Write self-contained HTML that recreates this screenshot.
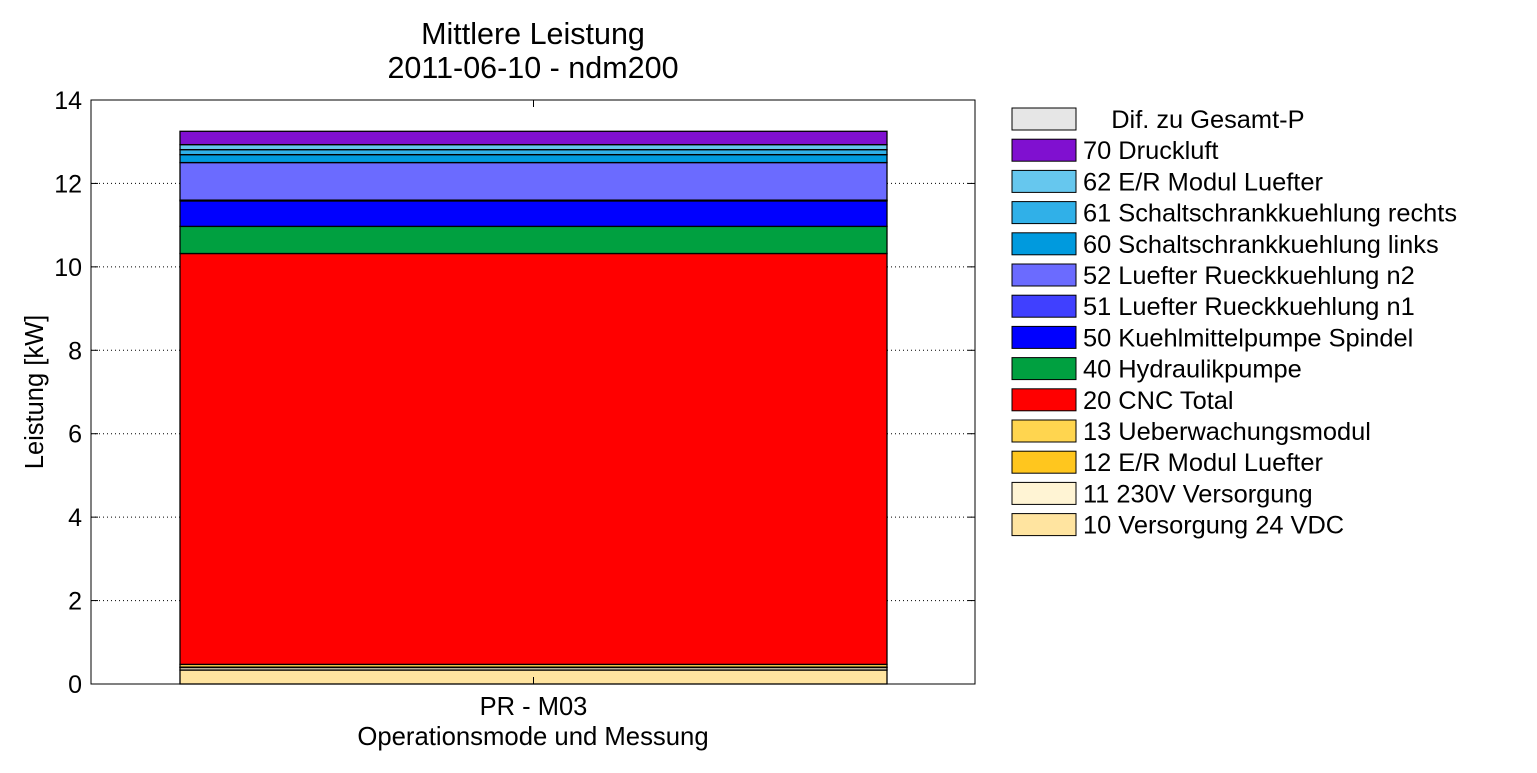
<!DOCTYPE html>
<html><head><meta charset="utf-8"><style>
body{margin:0;background:#fff;font-family:"Liberation Sans",sans-serif}
svg text{font-family:"Liberation Sans",sans-serif;fill:#000}
</style></head><body>
<svg id="c" width="1537" height="768" xmlns="http://www.w3.org/2000/svg"></svg>
<script>
const categories=["PR - M03"];
const seriesNames=["10 Versorgung 24 VDC","11 230V Versorgung","12 E/R Modul Luefter","13 Ueberwachungsmodul","20 CNC Total","40 Hydraulikpumpe","50 Kuehlmittelpumpe Spindel","51 Luefter Rueckkuehlung n1","52 Luefter Rueckkuehlung n2","60 Schaltschrankkuehlung links","61 Schaltschrankkuehlung rechts","62 E/R Modul Luefter","70 Druckluft","    Dif. zu Gesamt-P"];
const seriesValues=[0.335,0.06,0.01,0.065,9.85,0.65,0.61,0.02,0.90,0.19,0.12,0.12,0.32,0];
const seriesColors=["#ffe4a0","#fff4d4","#ffc61e","#ffd54f","#ff0000","#00a040","#0000ff","#4040ff","#6b6bff","#009ade","#30b0e8","#66c7ee","#8010d0","#e6e6e6"];
const yTicks=[0,2,4,6,8,10,12,14];
const NS="http://www.w3.org/2000/svg";
const svg=document.getElementById('c');
const X0=91,X1=975,Y0=684,Y1=100,yMax=14;
const y=v=>Y0-(v/yMax)*(Y0-Y1);
function mk(t,a,p){const e=document.createElementNS(NS,t);for(const k in a)e.setAttribute(k,a[k]);(p||svg).appendChild(e);return e;}
yTicks.forEach(t=>{
 if(t>0&&t<yMax){const g=mk('line',{x1:X0,x2:X1,y1:y(t),y2:y(t),stroke:'#000','stroke-dasharray':'1,3','stroke-width':1});
 
 }
 const l=mk('text',{x:X0-9,y:y(t)+9,'text-anchor':'end','font-size':25});l.textContent=t;
 
 
 mk('line',{x1:X0,x2:X0+7,y1:y(t),y2:y(t),stroke:'#000'});
 mk('line',{x1:X1,x2:X1-7,y1:y(t),y2:y(t),stroke:'#000'});
});
const bx=180,bw=707;
categories.forEach((c,ci)=>{
 let acc=0;
 seriesValues.forEach((v,i)=>{
  const r=mk('rect',{x:bx,y:y(acc+v),width:bw,height:Math.max(0,y(acc)-y(acc+v)),fill:seriesColors[i],stroke:'#000','stroke-width':1.3});
  
  
  acc+=v;
 });
 const t=mk('text',{x:bx+bw/2,y:715,'text-anchor':'middle','font-size':25.5});t.textContent=c;
 
 
 mk('line',{x1:bx+bw/2,x2:bx+bw/2,y1:Y0,y2:Y0-7,stroke:'#000'});
 mk('line',{x1:bx+bw/2,x2:bx+bw/2,y1:Y1,y2:Y1+7,stroke:'#000'});
});
const fr=mk('rect',{x:X0,y:Y1,width:X1-X0,height:Y0-Y1,fill:'none',stroke:'#000','stroke-width':1});


[["Mittlere Leistung",44,'chart-title'],["2011-06-10 - ndm200",78,'chart-subtitle']].forEach(([s,yy,n])=>{const t=mk('text',{x:533,y:yy,'text-anchor':'middle','font-size':30.5});t.textContent=s;
 
 });
const xt=mk('text',{x:533,y:745,'text-anchor':'middle','font-size':25.7});xt.textContent="Operationsmode und Messung";


const yt=mk('text',{x:0,y:0,'text-anchor':'middle','font-size':25.5,transform:'translate(43,392) rotate(-90)'});yt.textContent="Leistung [kW]";


for(let k=0;k<seriesNames.length;k++){
 const i=seriesNames.length-1-k;const yy=108+k*31.2;
 const g=mk('g',{});
 
 
 mk('rect',{x:1012,y:yy,width:64,height:22,fill:seriesColors[i],stroke:'#000','stroke-width':1},g);
 const t=mk('text',{x:1083,y:yy+20,'font-size':25.4},g);t.textContent=seriesNames[i];
 t.style.whiteSpace='pre';
}
</script>
</body></html>
